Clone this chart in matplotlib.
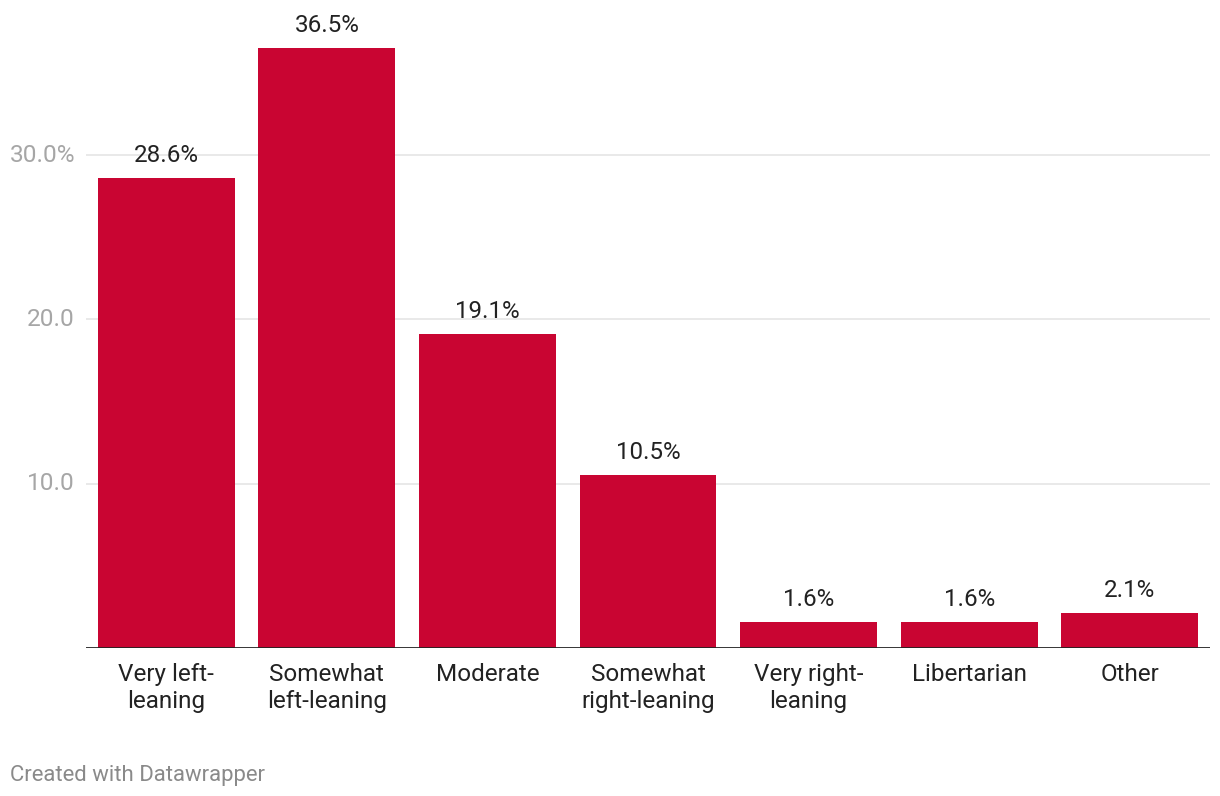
import matplotlib
matplotlib.use('Agg')
from matplotlib import pyplot as plt
import numpy as np

categories = ['Very left-\nleaning', 'Somewhat\nleft-leaning', 'Moderate',
              'Somewhat\nright-leaning', 'Very right-\nleaning', 'Libertarian', 'Other']
values = [28.6, 36.5, 19.1, 10.5, 1.6, 1.6, 2.1]
yticks = [10, 20, 30]
ytick_labels = ['10.0', '20.0', '30.0%']

plt.rcParams['font.family'] = ['Roboto', 'DejaVu Sans']

fig = plt.figure(figsize=(12.2, 7.96), dpi=100)
ax = fig.add_axes([86 / 1220, 148 / 796, 1124 / 1220, 624.4 / 796])

x = np.arange(len(categories))
bars = ax.bar(x, values, width=0.853, color='#c90532', zorder=2)
ax.set_xlim(-0.5, len(categories) - 0.5)
ax.set_ylim(0, 38)

# grid lines
for t in yticks:
    ax.axhline(t, color='#e3e3e3', lw=1.1, zorder=1)
ax.axhline(0, color='#222222', lw=2, zorder=3)

for s in ax.spines.values():
    s.set_visible(False)
ax.set_yticks([])
ax.set_xticks([])

# y labels, right aligned left of the axis
for t, lab in zip(yticks, ytick_labels):
    ax.annotate(lab, xy=(0, t), xycoords=('axes fraction', 'data'),
                xytext=(-11, 0), textcoords='offset pixels',
                ha='right', va='center', fontsize=17.6, color='#a6a6a6')

for xi, v in zip(x, values):
    ax.annotate(f'{v:.1f}%', xy=(xi, v), xytext=(0, 11), textcoords='offset pixels',
                ha='center', va='bottom', fontsize=17.4, color='#222222')

for xi, c in zip(x, categories):
    ax.annotate(c, xy=(xi, 0), xytext=(0, -15), textcoords='offset pixels',
                ha='center', va='top', fontsize=17.5, color='#222222',
                linespacing=1.22)

fig.text(10 / 1220, 1 - 775 / 796, 'Created with Datawrapper', ha='left', va='center',
         fontsize=15.9, color='#8a8a8a')

fig.savefig('out.png', dpi=100, facecolor='white')
